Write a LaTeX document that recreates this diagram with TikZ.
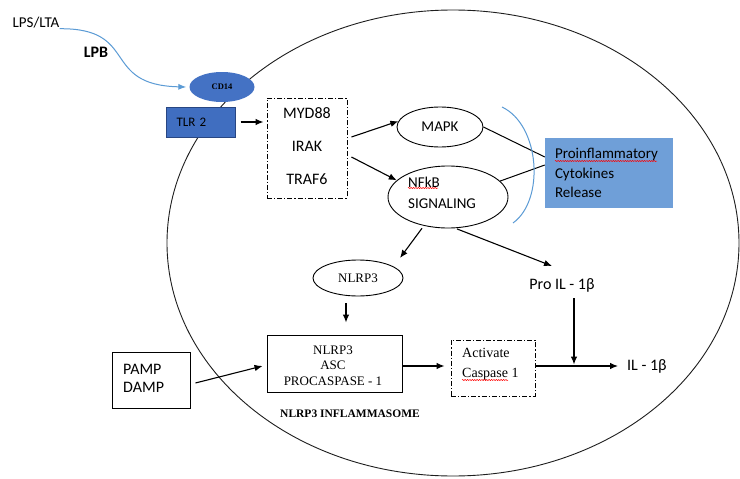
\documentclass[tikz,border=0pt]{standalone}
\usepackage{fontspec}
\setmainfont{Carlito}
\newfontfamily\tms{Liberation Serif}
\usetikzlibrary{shapes.geometric,arrows.meta,calc,decorations.pathmorphing}
\definecolor{cdblue}{RGB}{68,114,196}
\definecolor{tlrblue}{RGB}{64,110,192}
\definecolor{tlrborder}{RGB}{40,70,130}
\definecolor{problue}{RGB}{111,159,216}
\definecolor{curveblue}{RGB}{91,155,213}
\definecolor{linegray}{RGB}{30,30,30}
\begin{document}
\begin{tikzpicture}[x=1pt,y=-1pt,
  arr/.style={-{Latex[length=8pt,width=6.5pt]}, line width=1.1pt, black},
  ln/.style={line width=1pt, black},
  dashdot/.style={draw, line width=0.9pt, dash pattern=on 5pt off 2pt on 1.2pt off 2pt, inner sep=0pt},
  plainbox/.style={draw, line width=0.9pt, inner sep=0pt},
  oval/.style={ellipse, draw, line width=0.9pt, inner sep=0pt},
  txt/.style={inner sep=0pt},
  squig/.style={red, line width=0.5pt, decorate, decoration={snake, amplitude=0.6pt, segment length=2.4pt}}
]
\useasboundingbox (0,0) rectangle (740,479);
\fill[white] (0,0) rectangle (740,479);
% cell membrane
\draw[line width=0.9pt, linegray] (453,243) ellipse [x radius=286, y radius=233];

% nodes
\node[txt, font=\fontsize{15}{18}\selectfont] (lps) at (36,23) {LPS/LTA};
\node[txt, font=\bfseries\fontsize{16}{19}\selectfont] (lpb) at (96,52) {LPB};
\node[ellipse, fill=cdblue, minimum width=65pt, minimum height=30pt, inner sep=0pt, font=\tms\bfseries\fontsize{8.5}{10}\selectfont] (cd14) at (222,87) {CD14};
\node[draw=tlrborder, fill=tlrblue, line width=1pt, minimum width=69pt, minimum height=30pt, text width=48pt, inner xsep=10.5pt, align=left, font=\fontsize{13}{15}\selectfont] (tlr) at (200.5,122) {TLR 2};

\node[dashdot, minimum width=80pt, minimum height=100pt] (myd) at (307,148) {};
\node[txt, align=center, font=\fontsize{16}{33}\selectfont] (mydtxt) at (307,146) {MYD88\\IRAK\\TRAF6};

\node[oval, minimum width=86pt, minimum height=40pt, font=\fontsize{15}{18}\selectfont] (mapk) at (440,127) {MAPK};
\node[oval, minimum width=120pt, minimum height=62pt] (nfkb) at (448,197) {};
\node[txt, align=left, anchor=west, font=\fontsize{15}{21}\selectfont] (nfkbtxt) at (408,192.5) {NFkB\\SIGNALING};

\node[fill=problue, minimum width=128pt, minimum height=70pt, text width=108pt, inner xsep=10pt, inner ysep=0pt, align=left, font=\fontsize{15}{19.5}\selectfont] (pro) at (609,173) {Proinflammatory\\Cytokines\\Release};

\node[oval, minimum width=90pt, minimum height=36pt, font=\tms\fontsize{13}{15}\selectfont] (nlrp3) at (358,278) {NLRP3};

\node[plainbox, minimum width=135pt, minimum height=57pt] (infl) at (334.5,363.5) {};
\node[txt, align=center, font=\tms\fontsize{13}{15.5}\selectfont] (infltxt) at (333,365.5) {NLRP3\\ASC\\PROCASPASE - 1};
\node[txt, font=\tms\bfseries\fontsize{11.5}{14}\selectfont] (inflabel) at (350,414) {NLRP3 INFLAMMASOME};

\node[plainbox, minimum width=78pt, minimum height=56pt] (pamp) at (151,380) {};
\node[txt, align=left, anchor=west, font=\fontsize{16}{18}\selectfont] (pamptxt) at (123,378) {PAMP\\DAMP};

\node[dashdot, minimum width=84pt, minimum height=56pt] (act) at (493,368) {};
\node[txt, align=left, anchor=west, font=\tms\fontsize{14}{20}\selectfont] (acttxt) at (462,364) {Activate\\Caspase 1};

\node[txt, font=\fontsize{16}{19}\selectfont] (proil) at (562,285) {Pro IL - 1β};
\node[txt, anchor=west, font=\fontsize{16}{19}\selectfont] (il) at (627,366) {IL - 1β};

% connectors
\draw[curveblue, line width=1pt, -{Latex[length=8pt,width=6pt]}] (lps.south east) .. controls (140,28) and (100,85) .. ($(cd14.west)+(-3,0)$);
\draw[arr, shorten <=5pt, shorten >=3pt] (tlr.east) -- (tlr.east -| myd.west);
\draw[arr] ($(myd.east)+(4,-11)$) -- (mapk.172);
\draw[arr] ($(myd.east)+(4,9)$) -- (nfkb.162);
\draw[ln] (mapk.east) -- ($(pro.west)+(0,-16)$);
\draw[ln] (nfkb.17) -- ($(pro.west)+(0,-8)$);
\draw[curveblue, line width=1pt] (502,107) .. controls (540,125) and (545,200) .. (513,223);
\draw[arr, shorten <=3pt] (nfkb.230) -- ($(nlrp3.center)+(42,-20)$);
\draw[arr, shorten <=2pt] (nfkb.283) -- ($(proil.center)+(-10,-19)$);
\draw[arr] ($(nlrp3.south)+(-12,7)$) -- ($(infl.north)+(11.5,-12)$);
\draw[arr] ($(pamp.east)+(5,3)$) -- ($(infl.west)+(-4,2.5)$);
\draw[arr] ($(infl.east)+(0,2.5)$) -- ($(act.west)+(-6,-2)$);
\draw[arr] ($(act.east)+(0,-2)$) -- ($(il.west)+(-9,0)$);
\coordinate (vtop) at ($(proil.south)+(12,6)$);
\draw[arr, shorten >=1.5pt] (vtop) -- (vtop |- il.west);

% spell-check squiggles
\draw[squig] (555,161) -- (657,161);
\draw[squig] (408,188) -- (438,188);
\draw[squig] (462,380) -- (508,380);
\end{tikzpicture}
\end{document}
